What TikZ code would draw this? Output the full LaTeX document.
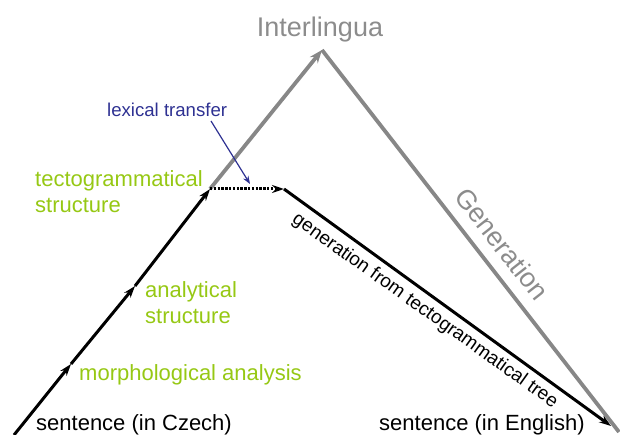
\documentclass[tikz,border=0pt]{standalone}
\usepackage{fontspec}
\setmainfont{Liberation Sans}
\usetikzlibrary{arrows.meta}
\definecolor{lgreen}{RGB}{150,200,20}
\definecolor{lgray}{RGB}{135,135,135}
\definecolor{tgray}{RGB}{140,140,140}
\definecolor{dblue}{RGB}{46,49,146}
\tikzset{
  blk/.style={line width=3bp, black, -{Stealth[length=12bp,width=8bp]}},
  gry/.style={line width=3.8bp, lgray},
  lbl/.style={inner sep=0pt, anchor=base west},
  grn/.style={lbl, text=lgreen, font=\fontsize{22bp}{26bp}\selectfont},
  snt/.style={lbl, text=black, font=\fontsize{22bp}{26bp}\selectfont},
}
\begin{document}
\begin{tikzpicture}[x=1bp,y=-1bp]
\useasboundingbox (0,0) rectangle (620,435);
% points
\coordinate (s0) at (14,435);
\coordinate (m1) at (71,364);
\coordinate (m2) at (135,286);
\coordinate (tg) at (210,189);
\coordinate (apex) at (322,50);
\coordinate (gend) at (619,432);
\coordinate (lt) at (284,189);
\coordinate (en) at (611,426);
\coordinate (bs) at (211,121);
\coordinate (be) at (250,184);
% gray interlingua path
\draw[gry, -{Stealth[length=13bp,width=10bp]}] (tg) -- (apex);
\draw[gry] (apex) -- (gend);
% black analysis path
\draw[blk] (s0) -- (m1);
\draw[blk] (m1) -- (m2);
\draw[blk] (m2) -- (tg);
\draw[blk, dash pattern=on 2.4bp off 1.4bp] (tg) -- (lt);
\draw[blk] (lt) -- (en);
% lexical transfer arrow
\draw[dblue, line width=1.2bp, -{Stealth[length=8bp,width=6bp]}] (bs) -- (be);
% labels
\node[anchor=base, inner sep=0pt, text=tgray, font=\fontsize{27bp}{31bp}\selectfont] (il) at (320,37) {Interlingua};
\node[rotate=-51.9, inner sep=0pt, text=tgray, font=\fontsize{27bp}{31bp}\selectfont] (gen) at (502,244) {Generation};
\node[lbl, text=dblue, font=\fontsize{18.6bp}{22bp}\selectfont] (lex) at (107,117) {lexical transfer};
\node[grn] (tecto) at (35,187) {tectogrammatical};
\node[grn] (tecto2) at (35,213) {structure};
\node[grn] (an) at (145,298) {analytical};
\node[grn] (an2) at (145,323) {structure};
\node[grn] (morph) at (79,380) {morphological analysis};
\node[snt] (cz) at (36,430) {sentence (in Czech)};
\node[snt] (enl) at (379,430) {sentence (in English)};
\node[rotate=-35.5, inner sep=0pt, font=\fontsize{19bp}{23bp}\selectfont] (gft) at (425,311) {generation from tectogrammatical tree};
\end{tikzpicture}
\end{document}
